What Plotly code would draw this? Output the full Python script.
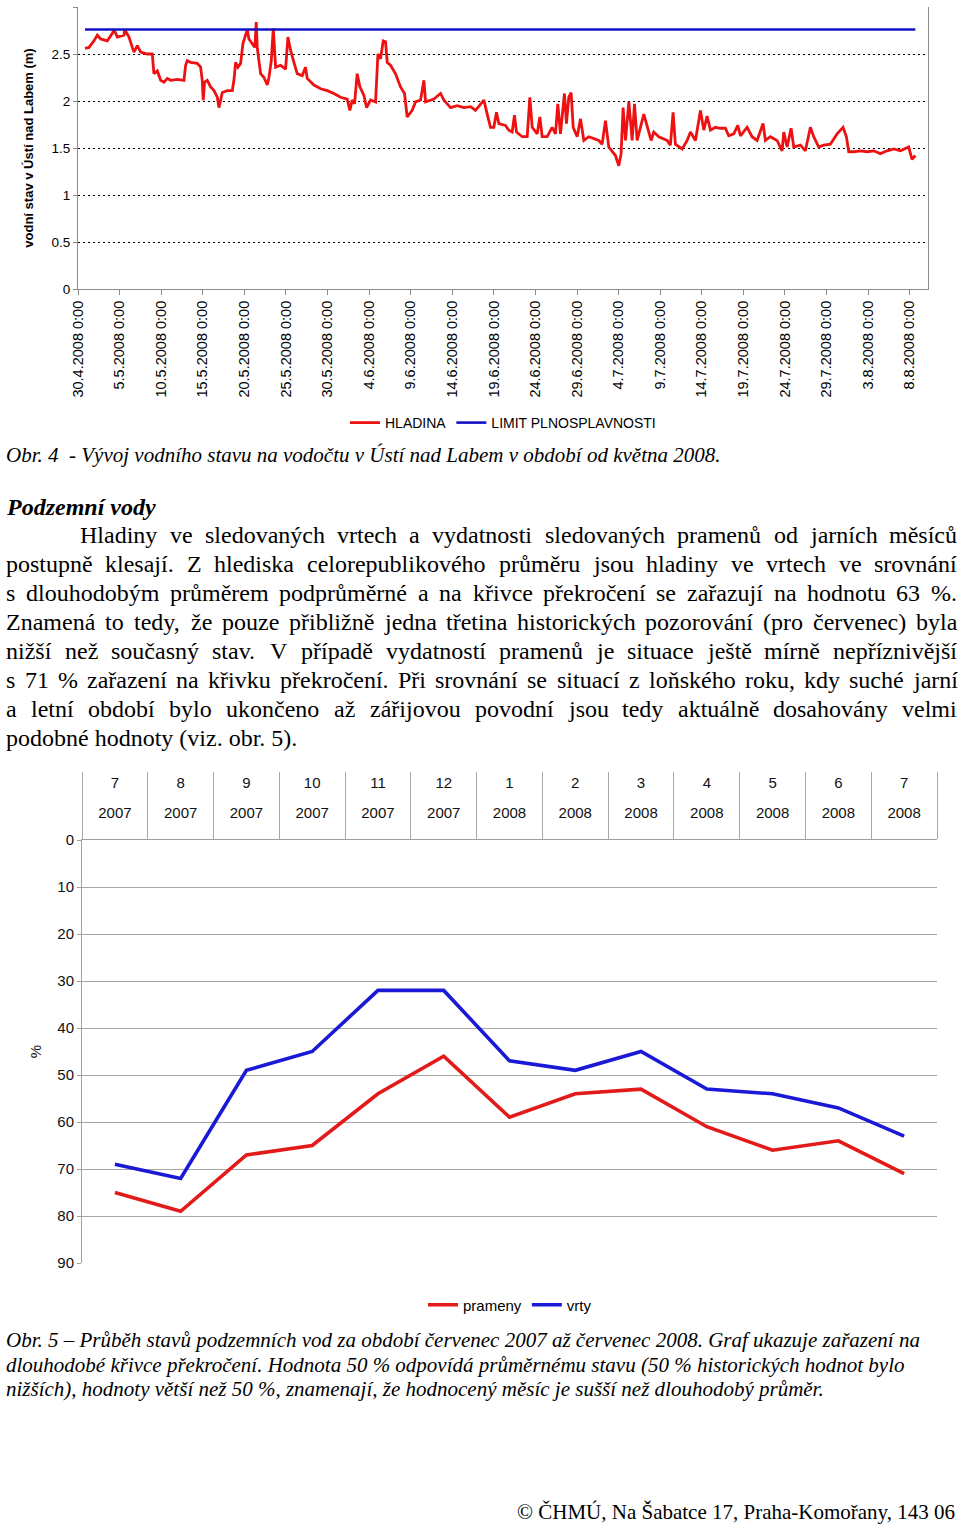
import unicodedata
from datetime import datetime, timedelta
import plotly.graph_objects as go

# ---------------- Chart 1 data: water level Ústí nad Labem ----------------
base_date = "30.4.2008 0:00"
hladina_den = [
    0.84, 1.32, 1.92, 2.32, 2.72, 3.53, 4.13, 4.33, 4.73, 5.53, 5.61,
    6.13, 6.53, 6.73, 7.13, 7.53, 8.33, 8.93, 9.13, 9.54, 9.94,
    10.34, 10.74, 11.14, 11.94, 12.74, 12.94, 13.14, 13.54, 14.34, 14.74,
    14.94, 15.06, 15.22, 15.54, 15.95, 16.35, 16.75, 16.95, 17.15, 17.35,
    17.95, 18.55, 18.75, 18.95, 19.23, 19.55, 19.83, 20.15, 20.35, 20.55,
    20.95, 21.27, 21.43, 21.55, 21.75, 21.96, 22.36, 22.76, 22.96, 23.24,
    23.48, 23.76, 24.36, 24.96, 25.24, 25.56, 25.96, 26.36, 26.96, 27.36,
    27.56, 28.37, 29.17, 29.97, 30.77, 31.57, 32.37, 32.69, 32.97, 33.25,
    33.57, 33.89, 34.38, 34.70, 35.18, 35.78, 36.06, 36.38, 36.70, 36.98,
    37.18, 37.58, 38.18, 38.78, 39.26, 39.58, 40.18, 40.58, 41.19, 41.59,
    41.79, 42.39, 42.79, 43.59, 43.99, 44.79, 45.59, 46.39, 47.20, 47.80,
    48.40, 48.80, 49.20, 49.60, 50.00, 50.32, 50.60, 51.40, 51.80, 52.20,
    52.48, 52.72, 53.41, 54.01, 54.33, 54.61, 55.21, 55.53, 55.81, 56.41,
    57.01, 57.41, 57.69, 58.01, 58.49, 58.73, 59.01, 59.29, 59.54, 60.02,
    60.42, 60.82, 61.42, 62.02, 62.62, 63.02, 63.42, 63.82, 64.22, 64.62,
    65.02, 65.30, 65.54, 65.83, 66.23, 66.63, 66.91, 67.23, 68.03, 68.43,
    68.91, 69.23, 69.83, 70.83, 71.23, 71.55, 71.83, 72.64, 73.24, 73.64,
    74.24, 74.84, 75.24, 75.64, 76.04, 76.64, 77.24, 77.84, 78.24, 78.85,
    79.33, 79.65, 80.45, 81.05, 81.65, 82.37, 82.65, 83.25, 84.05, 84.66,
    84.86, 85.26, 85.74, 86.06, 86.86, 87.46, 88.06, 88.46, 89.06, 89.66,
    90.46, 91.27, 91.99, 92.39, 92.67, 93.27, 94.07, 94.87, 95.67, 96.47,
    97.28, 98.08, 98.88, 99.88, 100.28, 100.68,
]
hladina_m = [
    2.56, 2.57, 2.64, 2.70, 2.66, 2.64, 2.72, 2.76, 2.68, 2.70, 2.76,
    2.68, 2.57, 2.52, 2.59, 2.52, 2.50, 2.50, 2.29, 2.32, 2.22,
    2.20, 2.24, 2.22, 2.23, 2.22, 2.38, 2.43, 2.41, 2.40, 2.36,
    2.22, 2.01, 2.20, 2.22, 2.15, 2.11, 2.04, 1.93, 2.01, 2.09,
    2.11, 2.11, 2.22, 2.41, 2.36, 2.40, 2.61, 2.72, 2.76, 2.66,
    2.61, 2.57, 2.84, 2.57, 2.43, 2.29, 2.25, 2.17, 2.25, 2.43,
    2.77, 2.36, 2.38, 2.34, 2.68, 2.54, 2.41, 2.29, 2.27, 2.36,
    2.24, 2.17, 2.13, 2.11, 2.08, 2.04, 2.02, 1.90, 2.01, 1.97,
    2.29, 2.15, 2.06, 1.93, 2.01, 1.99, 2.50, 2.45, 2.64, 2.63,
    2.41, 2.38, 2.29, 2.15, 2.08, 1.83, 1.90, 1.99, 2.01, 2.22,
    1.99, 2.01, 2.02, 2.08, 2.01, 1.93, 1.95, 1.93, 1.94, 1.90,
    1.97, 2.01, 1.86, 1.72, 1.72, 1.88, 1.76, 1.74, 1.69, 1.67,
    1.85, 1.67, 1.62, 1.62, 2.04, 1.72, 1.65, 1.83, 1.62, 1.62,
    1.72, 1.65, 1.97, 1.65, 2.08, 1.76, 2.04, 2.09, 1.72, 1.62,
    1.81, 1.58, 1.62, 1.60, 1.58, 1.54, 1.79, 1.51, 1.46, 1.42,
    1.31, 1.44, 1.93, 1.58, 1.99, 1.58, 1.97, 1.58, 1.86, 1.72,
    1.58, 1.67, 1.62, 1.58, 1.53, 1.88, 1.54, 1.49, 1.58, 1.67,
    1.58, 1.90, 1.69, 1.84, 1.69, 1.72, 1.71, 1.71, 1.63, 1.65,
    1.74, 1.63, 1.72, 1.62, 1.58, 1.76, 1.58, 1.62, 1.58, 1.47,
    1.67, 1.51, 1.71, 1.51, 1.53, 1.47, 1.72, 1.62, 1.51, 1.53,
    1.54, 1.65, 1.72, 1.62, 1.46, 1.46, 1.47, 1.46, 1.47, 1.44,
    1.47, 1.49, 1.47, 1.51, 1.38, 1.42,
]
limit_den = [0.84, 100.68]
limit_m = [2.76, 2.76]
x1_tick_labels = [
    "30.4.2008 0:00", "5.5.2008 0:00", "10.5.2008 0:00", "15.5.2008 0:00",
    "20.5.2008 0:00", "25.5.2008 0:00", "30.5.2008 0:00", "4.6.2008 0:00",
    "9.6.2008 0:00", "14.6.2008 0:00", "19.6.2008 0:00", "24.6.2008 0:00",
    "29.6.2008 0:00", "4.7.2008 0:00", "9.7.2008 0:00", "14.7.2008 0:00",
    "19.7.2008 0:00", "24.7.2008 0:00", "29.7.2008 0:00", "3.8.2008 0:00",
    "8.8.2008 0:00",
]
y1_tick_vals = [0, 0.5, 1, 1.5, 2, 2.5, 3]
y1_tick_text = ["0", "0.5", "1", "1.5", "2", "2.5", "3"]

# ---------------- Chart 2 data: groundwater ----------------
mesice = ["7", "8", "9", "10", "11", "12", "1", "2", "3", "4", "5", "6", "7"]
roky = ["2007"] * 6 + ["2008"] * 7
prameny = [75, 79, 67, 65, 54, 46, 59, 54, 53, 61, 66, 64, 71]
vrty = [69, 72, 49, 45, 32, 32, 47, 49, 45, 53, 54, 57, 63]
y2_tick_vals = [0, 10, 20, 30, 40, 50, 60, 70, 80, 90]

# ---------------- Texts ----------------
caption4 = "Obr. 4 \u00a0- Vývoj vodního stavu na vodočtu v Ústí nad Labem v období od května 2008."
heading = "Podzemní vody"
para_lines = [
    "Hladiny ve sledovaných vrtech a vydatnosti sledovaných pramenů od jarních měsíců",
    "postupně klesají. Z hlediska celorepublikového průměru jsou hladiny ve vrtech ve srovnání",
    "s dlouhodobým průměrem podprůměrné a na křivce překročení se zařazují na hodnotu 63 %.",
    "Znamená to tedy, že pouze přibližně jedna třetina historických pozorování (pro červenec) byla",
    "nižší než současný stav. V případě vydatností pramenů je situace ještě mírně nepříznivější",
    "s 71 % zařazení na křivku překročení. Při srovnání se situací z loňského roku, kdy suché jarní",
    "a letní období bylo ukončeno až zářijovou povodní jsou tedy aktuálně dosahovány velmi",
    "podobné hodnoty (viz. obr. 5).",
]
caption5 = [
    "Obr. 5 – Průběh stavů podzemních vod za období červenec 2007 až červenec 2008. Graf ukazuje zařazení na",
    "dlouhodobé křivce překročení. Hodnota 50 % odpovídá průměrnému stavu (50 % historických hodnot bylo",
    "nižších), hodnoty větší než 50 %, znamenají, že hodnocený měsíc je sušší než dlouhodobý průměr.",
]
footer = "© ČHMÚ, Na Šabatce 17, Praha-Komořany, 143 06"

# ---------------- helpers ----------------
W, H = 960, 1525
SANS = "Liberation Sans, Arial, sans-serif"
SERIF = "Liberation Serif, Times New Roman, serif"


def px(xp):
    return xp / W


def py(yp):
    return 1 - yp / H


TIMES_W = dict(zip("abcdefghijklmnopqrstuvwxyz",
                   [444, 500, 444, 500, 444, 333, 500, 500, 278, 278, 500, 278, 778,
                    500, 500, 500, 500, 333, 389, 278, 500, 500, 722, 500, 500, 444]))
TIMES_W.update(dict(zip("ABCDEFGHIJKLMNOPQRSTUVWXYZ",
                        [722, 667, 667, 722, 611, 556, 722, 722, 333, 389, 722, 611, 889,
                         722, 722, 556, 722, 667, 556, 611, 722, 722, 944, 722, 722, 611])))
TIMES_W.update({d: 500 for d in "0123456789"})
TIMES_W.update({" ": 250, ".": 250, ",": 250, "(": 333, ")": 333, "%": 833, "-": 333, ":": 278})


def text_width(s, size):
    total = 0
    for ch in s:
        b = unicodedata.normalize("NFD", ch)[0]
        total += TIMES_W.get(b, 500)
    return total * size / 1000.0


annotations = []


def add_text(text, xp, yp, size, family=SERIF, xanchor="left", color="black"):
    annotations.append(dict(
        text=text, x=px(xp), y=py(yp), xref="paper", yref="paper",
        xanchor=xanchor, yanchor="middle", showarrow=False, borderpad=0,
        font=dict(family=family, size=size, color=color),
    ))


def add_justified(line, x0, x1, yp, size):
    words = line.split(" ")
    widths = [text_width(w, size) for w in words]
    gap = (x1 - x0 - sum(widths)) / (len(words) - 1)
    x = x0
    for w, wd in zip(words, widths):
        add_text(w, x, yp, size)
        x += wd + gap


# ---------------- figure ----------------
t0 = datetime.strptime(base_date, "%d.%m.%Y %H:%M")
hl_x = [t0 + timedelta(days=d) for d in hladina_den]
lim_x = [t0 + timedelta(days=d) for d in limit_den]
x1_tick_vals = [datetime.strptime(s, "%d.%m.%Y %H:%M") for s in x1_tick_labels]
x1_range = [t0, t0 + timedelta(days=102.2)]

cats = [f"{m}/{r}" for m, r in zip(mesice, roky)]

fig = go.Figure()
fig.add_trace(go.Scatter(x=hl_x, y=hladina_m, mode="lines", name="HLADINA",
                         line=dict(color="#ee1111", width=2.8), xaxis="x", yaxis="y",
                         legend="legend"))
fig.add_trace(go.Scatter(x=lim_x, y=limit_m, mode="lines", name="LIMIT PLNOSPLAVNOSTI",
                         line=dict(color="#1212c4", width=2.6), xaxis="x", yaxis="y",
                         legend="legend"))
fig.add_trace(go.Scatter(x=cats, y=prameny, mode="lines", name="prameny",
                         line=dict(color="#e21a1a", width=3.6), xaxis="x2", yaxis="y2",
                         legend="legend2"))
fig.add_trace(go.Scatter(x=cats, y=vrty, mode="lines", name="vrty",
                         line=dict(color="#1a1ad6", width=3.6), xaxis="x3", yaxis="y2",
                         legend="legend2"))

# paragraph & captions
add_text("<i>" + caption4 + "</i>", 5, 455, 21)
add_text("<b><i>" + heading + "</i></b>", 5, 507, 24)
PARA_SIZE = 24
for k, line in enumerate(para_lines):
    y = 535 + 29 * k
    x0 = 79 if k == 0 else 5
    if k == len(para_lines) - 1:
        add_text(line, x0, y, PARA_SIZE)
    else:
        add_justified(line, x0, 956, y, PARA_SIZE)
for k, line in enumerate(caption5):
    add_text("<i>" + line + "</i>", 5, 1340 + 24.5 * k, 21)
add_text(footer, 956, 1512, 21, xanchor="right")

grey = "#8c8c8c"
fig.update_layout(
    width=W, height=H,
    margin=dict(l=0, r=0, t=0, b=0, autoexpand=False),
    paper_bgcolor="white", plot_bgcolor="white",
    showlegend=True,
    font=dict(family=SANS, color="black"),
    annotations=annotations,
    xaxis=dict(
        domain=[px(78), px(928)], anchor="y", type="date", range=x1_range,
        tickmode="array", tickvals=x1_tick_vals, ticktext=x1_tick_labels,
        tickangle=-90, ticks="outside", ticklen=5, tickcolor=grey,
        showline=True, linecolor=grey, linewidth=1, showgrid=False, zeroline=False,
        tickfont=dict(family=SANS, size=14.5, color="black"),
    ),
    yaxis=dict(
        domain=[py(289), py(7)], anchor="x", range=[0, 3],
        tickmode="array", tickvals=y1_tick_vals, ticktext=y1_tick_text,
        showgrid=True, gridcolor="black", griddash="2px,3px", gridwidth=1,
        showline=True, mirror=True, linecolor=grey, linewidth=1,
        ticks="outside", ticklen=4, tickcolor=grey, zeroline=False,
        tickfont=dict(family=SANS, size=13.5, color="black"),
        title=dict(text="<b>vodní stav v Ústí nad Labem (m)</b>",
                   font=dict(family=SANS, size=13, color="black"), standoff=14),
    ),
    xaxis2=dict(
        domain=[px(82), px(937)], anchor="y2", side="top", type="category",
        categoryorder="array", categoryarray=cats, range=[-0.5, len(cats) - 0.5],
        tickmode="array", tickvals=cats, ticktext=roky,
        ticks="outside", ticklen=67, tickson="boundaries", tickcolor="#a8a8a8", tickwidth=1,
        ticklabelstandoff=15,
        showline=True, linecolor="#a0a0a0", linewidth=1, showgrid=False, zeroline=False,
        tickfont=dict(family=SANS, size=15, color="#111"),
    ),
    xaxis3=dict(
        overlaying="x2", anchor="y2", side="top", type="category",
        categoryorder="array", categoryarray=cats, range=[-0.5, len(cats) - 0.5],
        tickmode="array", tickvals=cats, ticktext=mesice,
        ticks="", ticklabelstandoff=48,
        showline=False, showgrid=False, zeroline=False,
        tickfont=dict(family=SANS, size=15, color="#111"),
    ),
    yaxis2=dict(
        domain=[py(1263), py(840)], anchor="x2", range=[90, 0],
        tickmode="array", tickvals=y2_tick_vals,
        showgrid=True, gridcolor="#a6a6a6", gridwidth=1.3,
        showline=True, linecolor="#a0a0a0", linewidth=1,
        ticks="outside", ticklen=4, tickcolor="#a0a0a0", zeroline=False,
        tickfont=dict(family=SANS, size=15, color="#111"),
        title=dict(text="%", font=dict(family=SANS, size=15, color="#111"), standoff=12),
    ),
    legend=dict(
        orientation="h", x=px(503), y=py(423), xanchor="center", yanchor="middle",
        font=dict(family=SANS, size=14, color="black"), bgcolor="rgba(0,0,0,0)",
        itemwidth=30, tracegroupgap=0,
    ),
    legend2=dict(
        orientation="h", x=px(510), y=py(1305), xanchor="center", yanchor="middle",
        font=dict(family=SANS, size=15, color="black"), bgcolor="rgba(0,0,0,0)",
        itemwidth=30, tracegroupgap=0,
    ),
)

# remove the default 8px page margin so the 960x1525 figure fills the window exactly
fig.write_html(
    "out.html",
    config={"displayModeBar": False},
    post_script="document.body.style.margin='0';document.body.style.overflow='hidden';",
)
